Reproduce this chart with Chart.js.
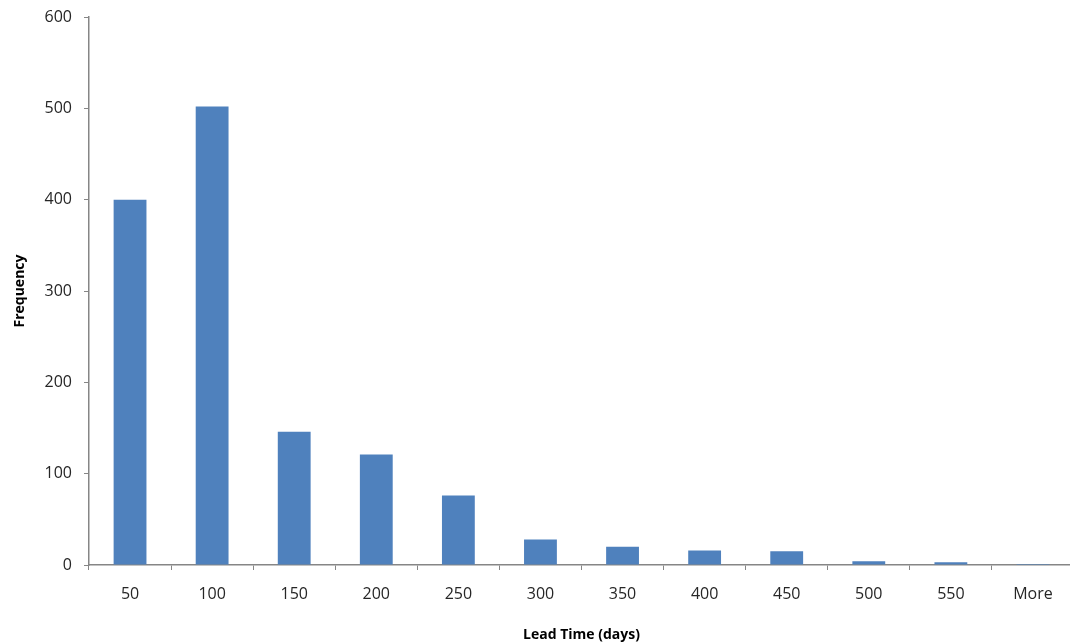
<!DOCTYPE html>
<html>
<head>
<meta charset="utf-8">
<script src="https://cdn.jsdelivr.net/npm/chart.js@4"></script>
<style>
  html, body { margin: 0; padding: 0; background: #fff; overflow: hidden; }
  #wrap { width: 1076px; height: 643px; }
</style>
</head>
<body>
<div id="wrap"><canvas id="grafico" width="1076" height="643"></canvas></div>
<script>
// Histograma de lead time
const categorias = ['50', '100', '150', '200', '250', '300', '350', '400', '450', '500', '550', 'More'];
const frequencias = [400, 502, 146, 121, 76, 28, 20, 16, 15, 4, 3, 1];
const ticksY = [0, 100, 200, 300, 400, 500, 600];

const corEixo = '#868686';
const corTexto = '#262626';

const ctx = document.getElementById('grafico').getContext('2d');

new Chart(ctx, {
    type: 'bar',
    data: {
        labels: categorias,
        datasets: [{
            label: 'Frequency',
            data: frequencias,
            backgroundColor: '#4F81BD',
            borderWidth: 0,
            barPercentage: 0.4,
            categoryPercentage: 1.0
        }]
    },
    options: {
        responsive: false,
        animation: false,
        devicePixelRatio: 1,
        layout: { padding: { top: 17, right: 2, left: 0, bottom: 0 } },
        plugins: {
            legend: { display: false },
            tooltip: { enabled: false }
        },
        scales: {
            x: {
                afterFit: (scale) => { scale.height = 78; },
                grid: {
                    offset: true,
                    drawOnChartArea: false,
                    drawTicks: true,
                    tickLength: 5,
                    color: corEixo
                },
                border: { color: corEixo, width: 1.5 },
                ticks: {
                    color: corTexto,
                    padding: 15,
                    maxRotation: 0,
                    font: { family: 'Open Sans', size: 16 }
                },
                title: {
                    display: true,
                    text: 'Lead Time (days)',
                    color: '#000',
                    padding: { top: 4, bottom: 0 },
                    font: { family: 'Open Sans', size: 14, weight: 'bold' }
                }
            },
            y: {
                min: 0,
                max: 600,
                afterFit: (scale) => {
                    scale.width = 89;
                    scale.paddingTop = 0;
                    scale.paddingBottom = 0;
                },
                afterBuildTicks: (scale) => {
                    scale.ticks = ticksY.map(v => ({ value: v }));
                },
                grid: {
                    drawOnChartArea: false,
                    drawTicks: true,
                    tickLength: 5,
                    color: corEixo
                },
                border: { color: corEixo, width: 1.5 },
                ticks: {
                    color: corTexto,
                    padding: 12,
                    font: { family: 'Open Sans', size: 16 }
                },
                title: {
                    display: true,
                    text: 'Frequency',
                    color: '#000',
                    padding: { top: 12, bottom: 0 },
                    font: { family: 'Open Sans', size: 14, weight: 'bold' }
                }
            }
        }
    }
});
</script>
</body>
</html>
